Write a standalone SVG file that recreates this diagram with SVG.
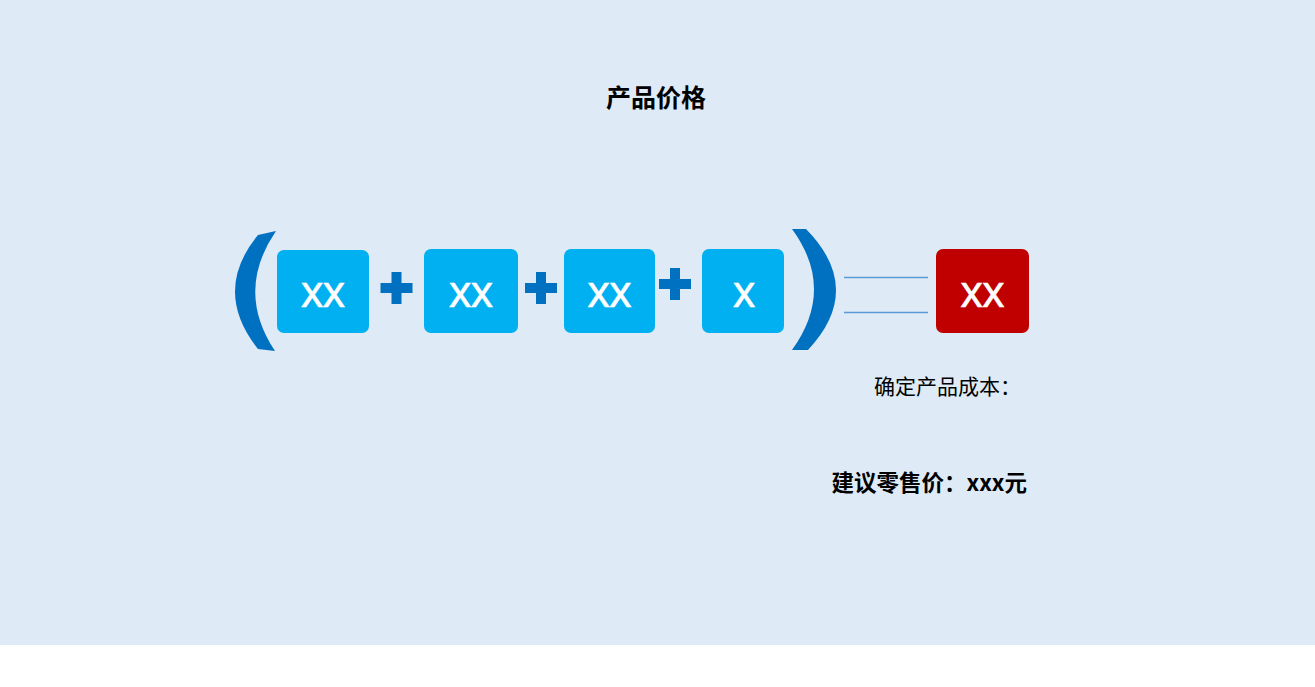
<svg xmlns="http://www.w3.org/2000/svg" width="1315" height="687" viewBox="0 0 1315 687">
<style>
.box{fill:#00B0F0}
.red{fill:#C00000}
.bt{font-family:"Noto Sans","Open Sans",sans-serif;font-size:43px;fill:#fff;stroke:#fff;stroke-width:0.5;text-anchor:middle;letter-spacing:-1px}
.br{fill:#0070C0}
.plus{fill:#0070C0}
.cn{font-family:"Noto Sans CJK SC","Noto Sans",sans-serif;fill:#000}
.ln{stroke:#5B9BD5;stroke-width:1.5;fill:none}
</style>
<defs><path id="plus" d="M-5,-16h10v11h11v10h-11v11h-10v-11h-11v-10h11z"/></defs>
<rect x="0" y="0" width="1315" height="645" fill="#DEEAF6"/>
<rect x="0" y="645" width="1315" height="42" fill="#fff"/>
<text class="cn" x="656" y="107" font-size="25" font-weight="bold" text-anchor="middle">产品价格</text>
<g id="lbracket"><path class="br" d="M258,235 L276,231 Q235,291 275,351 L258,349 Q212,291 258,235 Z"/></g>
<g id="rbracket"><path class="br" d="M792,229 L806,229 Q865,289 808,350 L792,350 Q836,289 792,229 Z"/></g>
<g id="n1"><rect class="box" x="277" y="250" width="92" height="83" rx="7"/><text class="bt" x="322.5" y="307">xx</text></g>
<g id="p1"><use href="#plus" class="plus" x="396.5" y="288"/></g>
<g id="n2"><rect class="box" x="424" y="249" width="94" height="84" rx="7"/><text class="bt" x="470.5" y="307">xx</text></g>
<g id="p2"><use href="#plus" class="plus" x="541" y="288"/></g>
<g id="n3"><rect class="box" x="564" y="249" width="91" height="84" rx="7"/><text class="bt" x="609" y="307">xx</text></g>
<g id="p3"><use href="#plus" class="plus" x="675" y="284"/></g>
<g id="n4"><rect class="box" x="702" y="249" width="82" height="84" rx="7"/><text class="bt" x="743.5" y="307">x</text></g>
<g id="connectors"><line class="ln" x1="844" y1="277.5" x2="928" y2="277.5"/><line class="ln" x1="844" y1="312.5" x2="928" y2="312.5"/></g>
<g id="result"><rect class="red" x="936" y="249" width="93" height="84" rx="7"/><text class="bt" x="982" y="307">xx</text></g>
<text class="cn" x="874" y="394" font-size="21">确定产品成本：</text>
<text class="cn" x="1027" y="491" font-size="22.5" font-weight="bold" text-anchor="end">建议零售价：xxx元</text>
</svg>
